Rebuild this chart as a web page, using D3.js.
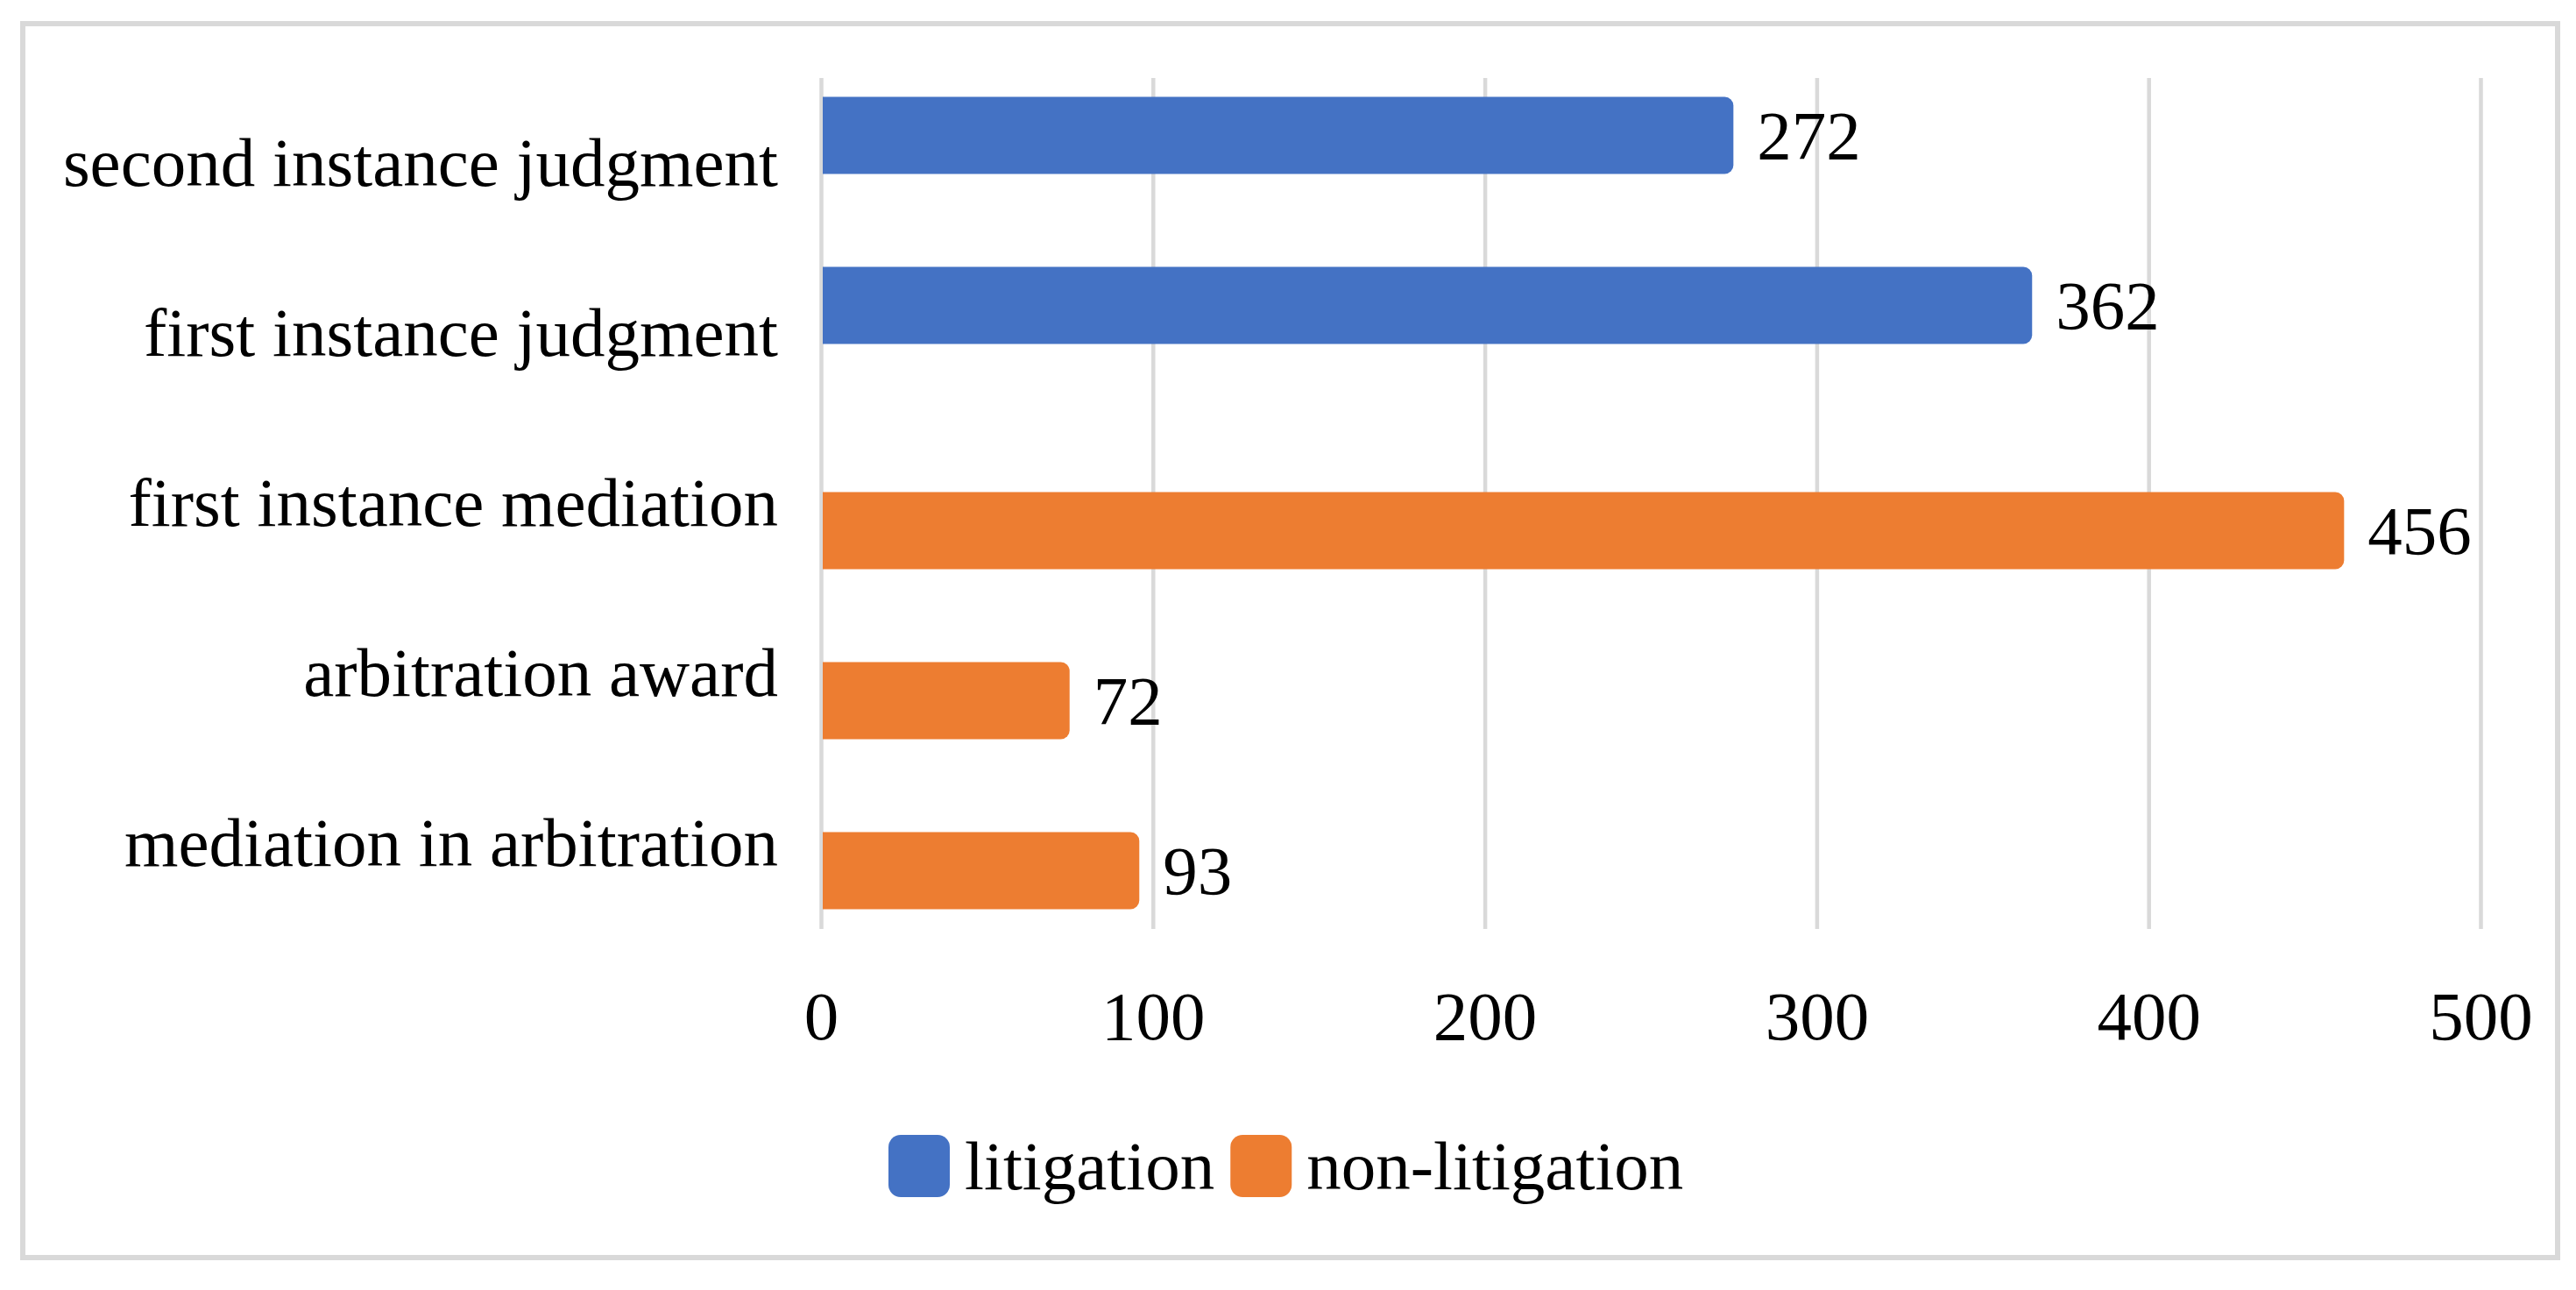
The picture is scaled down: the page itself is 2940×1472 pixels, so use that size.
<!DOCTYPE html>
<html>
<head>
<meta charset="utf-8">
<script src="https://cdn.jsdelivr.net/npm/d3@7"></script>
<style>
  body { margin: 0; background: #fff; }
  svg { display: block; }
  text { font-family: "Liberation Serif", "Times New Roman", serif; fill: #000; }
</style>
</head>
<body>
<svg id="chart"></svg>
<script>
// data, top to bottom
var categories = [
  'second instance judgment',
  'first instance judgment',
  'first instance mediation',
  'arbitration award',
  'mediation in arbitration'
];
var seriesNames = ['litigation', 'non-litigation'];
var litigation = [272, 362, null, null, null];
var nonLitigation = [null, null, 456, 72, 93];
var xTicks = [0, 100, 200, 300, 400, 500];

var width = 2940;
var height = 1472;
var plot = { left: 937, right: 2831, top: 89, bottom: 1060 };
var colors = { 'litigation': '#4472C4', 'non-litigation': '#ED7D31' };
var fontSize = 79;
var barHeight = 88;
var capExtra = 11; // bars run a bit past their value, as in the original

var svg = d3.select('#chart')
  .attr('width', width)
  .attr('height', height);

// outer frame
svg.append('rect')
  .attr('x', 26)
  .attr('y', 27)
  .attr('width', 2893)
  .attr('height', 1408)
  .attr('fill', '#fff')
  .attr('stroke', '#d9d9d9')
  .attr('stroke-width', 6);

var xScale = d3.scaleLinear()
  .domain([0, 500])
  .range([plot.left, plot.right]);

var yScale = d3.scaleBand()
  .domain(categories)
  .range([plot.top, plot.bottom - 1])
  .paddingInner(0);

// slot of each series inside a category
var ySub = d3.scaleBand()
  .domain(seriesNames)
  .range([-63, 63]);

// gridlines
svg.append('g')
  .attr('transform', 'translate(0,' + plot.bottom + ')')
  .call(d3.axisBottom(xScale)
    .tickValues(xTicks)
    .tickSize(-(plot.bottom - plot.top))
    .tickFormat(''))
  .call(g => g.select('.domain').remove())
  .call(g => g.selectAll('line')
    .attr('stroke', '#d9d9d9')
    .attr('stroke-width', 4.5));

// x tick labels
svg.append('g')
  .attr('transform', 'translate(0,' + plot.bottom + ')')
  .call(d3.axisBottom(xScale)
    .tickValues(xTicks)
    .tickSize(0)
    .tickFormat(d3.format('d')))
  .call(g => g.select('.domain').remove())
  .selectAll('text')
    .attr('y', 126)
    .attr('dy', 0)
    .style('font-size', fontSize + 'px')
    .style('font-family', '"Liberation Serif", serif');

// category labels
svg.append('g')
  .selectAll('text')
  .data(categories)
  .enter()
  .append('text')
    .attr('x', 888)
    .attr('y', d => yScale(d) + yScale.bandwidth() / 2 + 26)
    .attr('text-anchor', 'end')
    .style('font-size', fontSize + 'px')
    .text(d => d);

// bar with rounded right end
function barPath(x0, x1, yTop, h, r) {
  return 'M' + x0 + ',' + yTop +
    'H' + (x1 - r) +
    'A' + r + ',' + r + ' 0 0 1 ' + x1 + ',' + (yTop + r) +
    'V' + (yTop + h - r) +
    'A' + r + ',' + r + ' 0 0 1 ' + (x1 - r) + ',' + (yTop + h) +
    'H' + x0 + 'Z';
}

var bars = [];
categories.forEach(function(c, i) {
  if (litigation[i] != null) bars.push({ cat: c, series: 'litigation', value: litigation[i] });
  if (nonLitigation[i] != null) bars.push({ cat: c, series: 'non-litigation', value: nonLitigation[i] });
});

function barCenter(d) {
  return yScale(d.cat) + yScale.bandwidth() / 2 + ySub(d.series) + ySub.bandwidth() / 2;
}

svg.append('g')
  .selectAll('path')
  .data(bars)
  .enter()
  .append('path')
    .attr('d', d => barPath(xScale(0) + 2, xScale(d.value) + capExtra,
      barCenter(d) - barHeight / 2, barHeight, 10))
    .attr('fill', d => colors[d.series]);

// value labels
svg.append('g')
  .selectAll('text')
  .data(bars)
  .enter()
  .append('text')
    .attr('x', d => xScale(d.value) + 38)
    .attr('y', d => barCenter(d) + 26)
    .style('font-size', fontSize + 'px')
    .text(d => d.value);

// legend
var legend = svg.append('g');
var lx = 1014;
seriesNames.forEach(function(s) {
  legend.append('rect')
    .attr('x', lx)
    .attr('y', 1295)
    .attr('width', 70)
    .attr('height', 71)
    .attr('rx', 14)
    .attr('fill', colors[s]);
  var t = legend.append('text')
    .attr('x', lx + 70 + 17)
    .attr('y', 1357)
    .style('font-size', fontSize + 'px')
    .text(s);
  lx = lx + 70 + 17 + t.node().getComputedTextLength() + 18;
});
</script>
</body>
</html>
